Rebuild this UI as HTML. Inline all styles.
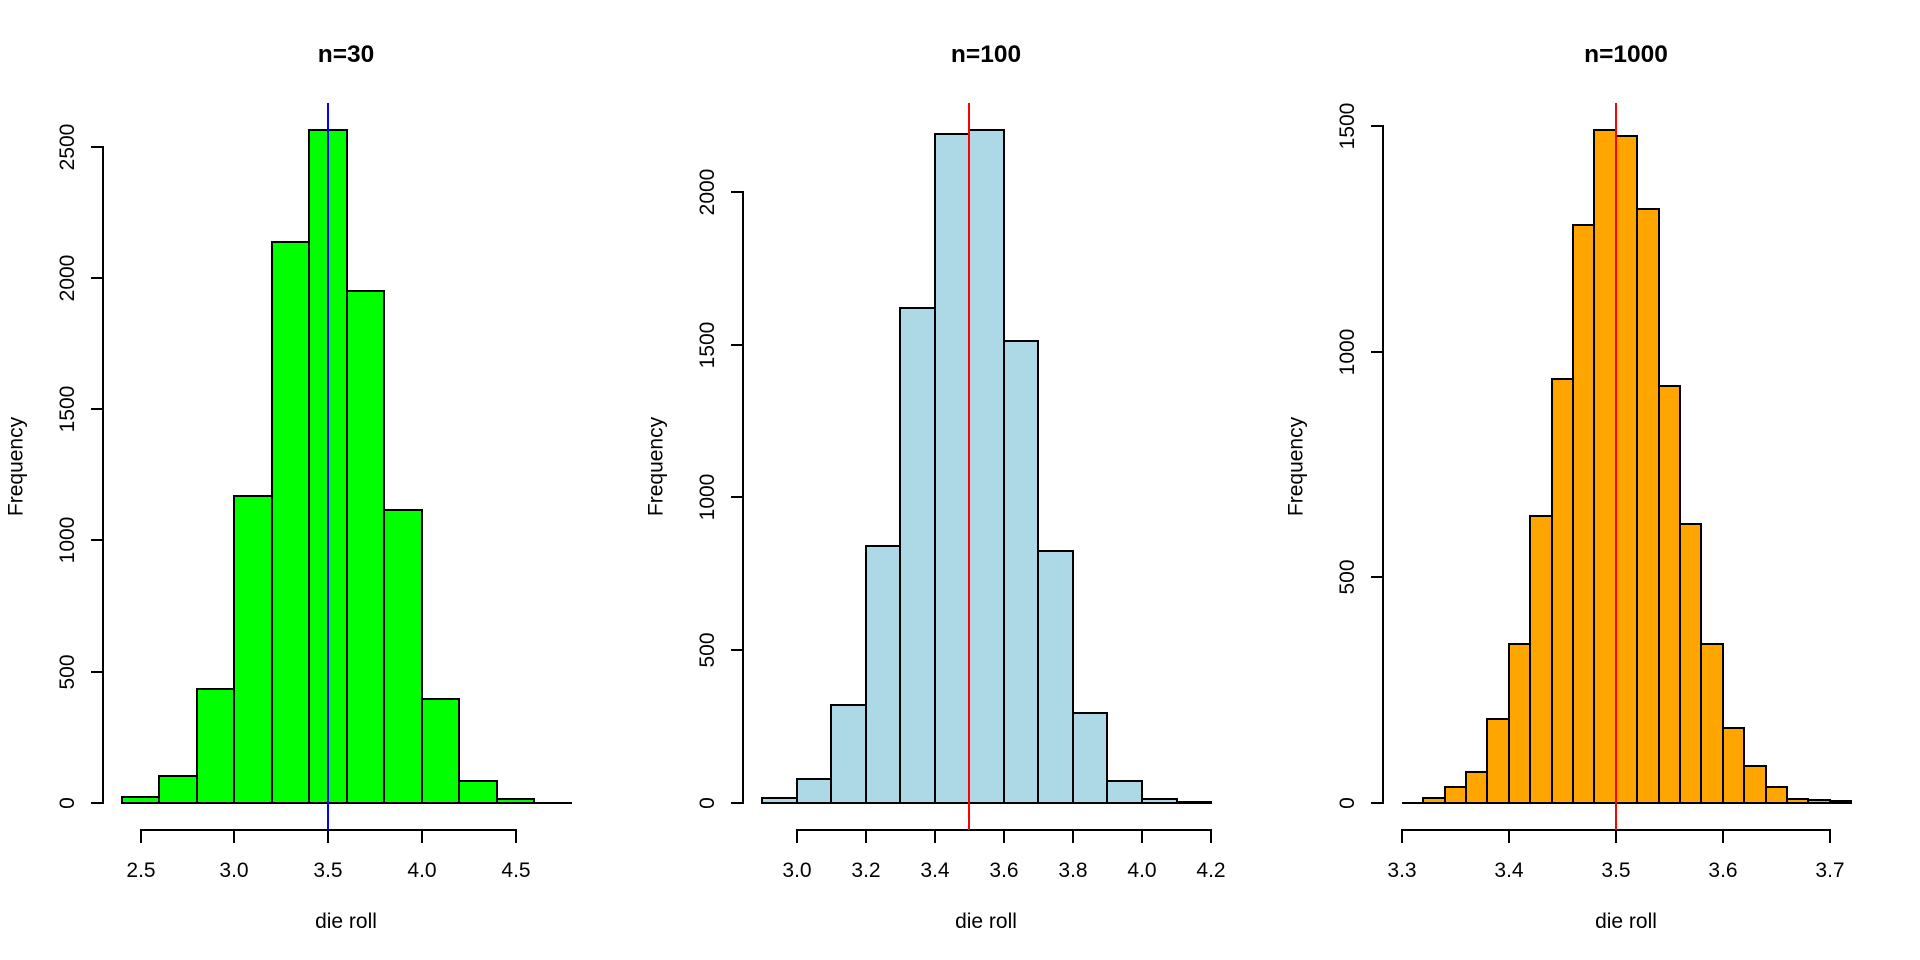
<!DOCTYPE html>
<html>
<head>
<meta charset="utf-8">
<style>
html,body{margin:0;padding:0;background:#fff;}
svg{display:block;}
text{font-family:"Liberation Sans",Arial,sans-serif;fill:#000;}
.ax{font-size:21px;}
.ti{font-size:24.5px;font-weight:bold;}
</style>
</head>
<body>
<svg width="1920" height="960" viewBox="0 0 1920 960" xmlns="http://www.w3.org/2000/svg">
<rect x="0" y="0" width="1920" height="960" fill="#fff"/>

<!-- ================= PANEL 1 ================= -->
<g stroke="#000" stroke-width="2" fill="#00FF00">
<rect x="122" y="797" width="37" height="6"/>
<rect x="159" y="776" width="38" height="27"/>
<rect x="197" y="689" width="37" height="114"/>
<rect x="234" y="496" width="38" height="307"/>
<rect x="272" y="242" width="37" height="561"/>
<rect x="309" y="130" width="38" height="673"/>
<rect x="347" y="291" width="37" height="512"/>
<rect x="384" y="510" width="38" height="293"/>
<rect x="422" y="699" width="37" height="104"/>
<rect x="459" y="781" width="38" height="22"/>
<rect x="497" y="799" width="37" height="4"/>
<line x1="534" y1="803" x2="572" y2="803"/>
</g>
<g stroke="#000" stroke-width="2" fill="none">
<line x1="103" y1="146" x2="103" y2="804"/>
<line x1="91" y1="803" x2="103" y2="803"/>
<line x1="91" y1="672" x2="103" y2="672"/>
<line x1="91" y1="540" x2="103" y2="540"/>
<line x1="91" y1="409" x2="103" y2="409"/>
<line x1="91" y1="278" x2="103" y2="278"/>
<line x1="91" y1="147" x2="103" y2="147"/>
<line x1="140" y1="830" x2="517" y2="830"/>
<line x1="141" y1="830" x2="141" y2="843"/>
<line x1="234" y1="830" x2="234" y2="843"/>
<line x1="328" y1="830" x2="328" y2="843"/>
<line x1="422" y1="830" x2="422" y2="843"/>
<line x1="516" y1="830" x2="516" y2="843"/>
</g>
<line x1="328" y1="103" x2="328" y2="830" stroke="#0000FF" stroke-width="2"/>
<text class="ti" x="346" y="62" text-anchor="middle">n=30</text>
<g class="ax" text-anchor="middle">
<text x="141" y="877">2.5</text>
<text x="234" y="877">3.0</text>
<text x="328" y="877">3.5</text>
<text x="422" y="877">4.0</text>
<text x="516" y="877">4.5</text>
<text x="346" y="928">die roll</text>
<text transform="translate(74,803) rotate(-90)">0</text>
<text transform="translate(74,672) rotate(-90)">500</text>
<text transform="translate(74,540) rotate(-90)">1000</text>
<text transform="translate(74,409) rotate(-90)">1500</text>
<text transform="translate(74,278) rotate(-90)">2000</text>
<text transform="translate(74,147) rotate(-90)">2500</text>
<text transform="translate(22.5,466.5) rotate(-90)">Frequency</text>
</g>

<!-- ================= PANEL 2 ================= -->
<g stroke="#000" stroke-width="2" fill="#ADD8E6">
<rect x="762" y="798" width="35" height="5"/>
<rect x="797" y="779" width="34" height="24"/>
<rect x="831" y="705" width="35" height="98"/>
<rect x="866" y="546" width="34" height="257"/>
<rect x="900" y="308" width="35" height="495"/>
<rect x="935" y="134" width="34" height="669"/>
<rect x="969" y="130" width="35" height="673"/>
<rect x="1004" y="341" width="34" height="462"/>
<rect x="1038" y="551" width="35" height="252"/>
<rect x="1073" y="713" width="34" height="90"/>
<rect x="1107" y="781" width="35" height="22"/>
<rect x="1142" y="799" width="35" height="4"/>
<rect x="1177" y="802" width="34" height="1"/>
</g>
<g stroke="#000" stroke-width="2" fill="none">
<line x1="743" y1="191" x2="743" y2="804"/>
<line x1="731" y1="803" x2="743" y2="803"/>
<line x1="731" y1="650" x2="743" y2="650"/>
<line x1="731" y1="497" x2="743" y2="497"/>
<line x1="731" y1="345" x2="743" y2="345"/>
<line x1="731" y1="192" x2="743" y2="192"/>
<line x1="796" y1="830" x2="1212" y2="830"/>
<line x1="797" y1="830" x2="797" y2="843"/>
<line x1="866" y1="830" x2="866" y2="843"/>
<line x1="935" y1="830" x2="935" y2="843"/>
<line x1="1004" y1="830" x2="1004" y2="843"/>
<line x1="1073" y1="830" x2="1073" y2="843"/>
<line x1="1142" y1="830" x2="1142" y2="843"/>
<line x1="1211" y1="830" x2="1211" y2="843"/>
</g>
<line x1="969" y1="103" x2="969" y2="830" stroke="#FF0000" stroke-width="2"/>
<text class="ti" x="986" y="62" text-anchor="middle">n=100</text>
<g class="ax" text-anchor="middle">
<text x="797" y="877">3.0</text>
<text x="866" y="877">3.2</text>
<text x="935" y="877">3.4</text>
<text x="1004" y="877">3.6</text>
<text x="1073" y="877">3.8</text>
<text x="1142" y="877">4.0</text>
<text x="1211" y="877">4.2</text>
<text x="986" y="928">die roll</text>
<text transform="translate(714,803) rotate(-90)">0</text>
<text transform="translate(714,650) rotate(-90)">500</text>
<text transform="translate(714,497) rotate(-90)">1000</text>
<text transform="translate(714,345) rotate(-90)">1500</text>
<text transform="translate(714,192) rotate(-90)">2000</text>
<text transform="translate(662.5,466.5) rotate(-90)">Frequency</text>
</g>

<!-- ================= PANEL 3 ================= -->
<g stroke="#000" stroke-width="2" fill="#FFA500">
<line x1="1402" y1="803" x2="1423" y2="803"/>
<rect x="1423" y="798" width="22" height="5"/>
<rect x="1445" y="787" width="21" height="16"/>
<rect x="1466" y="772" width="21" height="31"/>
<rect x="1487" y="719" width="22" height="84"/>
<rect x="1509" y="644" width="21" height="159"/>
<rect x="1530" y="516" width="22" height="287"/>
<rect x="1552" y="379" width="21" height="424"/>
<rect x="1573" y="225" width="21" height="578"/>
<rect x="1594" y="130" width="22" height="673"/>
<rect x="1616" y="136" width="21" height="667"/>
<rect x="1637" y="209" width="22" height="594"/>
<rect x="1659" y="386" width="21" height="417"/>
<rect x="1680" y="524" width="21" height="279"/>
<rect x="1701" y="644" width="22" height="159"/>
<rect x="1723" y="728" width="21" height="75"/>
<rect x="1744" y="766" width="22" height="37"/>
<rect x="1766" y="787" width="21" height="16"/>
<rect x="1787" y="799" width="21" height="4"/>
<rect x="1808" y="800" width="22" height="3"/>
<rect x="1830" y="801" width="21" height="2"/>
</g>
<g stroke="#000" stroke-width="2" fill="none">
<line x1="1383" y1="125" x2="1383" y2="804"/>
<line x1="1371" y1="803" x2="1383" y2="803"/>
<line x1="1371" y1="577" x2="1383" y2="577"/>
<line x1="1371" y1="352" x2="1383" y2="352"/>
<line x1="1371" y1="126" x2="1383" y2="126"/>
<line x1="1401" y1="830" x2="1831" y2="830"/>
<line x1="1402" y1="830" x2="1402" y2="843"/>
<line x1="1509" y1="830" x2="1509" y2="843"/>
<line x1="1616" y1="830" x2="1616" y2="843"/>
<line x1="1723" y1="830" x2="1723" y2="843"/>
<line x1="1830" y1="830" x2="1830" y2="843"/>
</g>
<line x1="1616" y1="103" x2="1616" y2="830" stroke="#FF0000" stroke-width="2"/>
<text class="ti" x="1626" y="62" text-anchor="middle">n=1000</text>
<g class="ax" text-anchor="middle">
<text x="1402" y="877">3.3</text>
<text x="1509" y="877">3.4</text>
<text x="1616" y="877">3.5</text>
<text x="1723" y="877">3.6</text>
<text x="1830" y="877">3.7</text>
<text x="1626" y="928">die roll</text>
<text transform="translate(1354,803) rotate(-90)">0</text>
<text transform="translate(1354,577) rotate(-90)">500</text>
<text transform="translate(1354,352) rotate(-90)">1000</text>
<text transform="translate(1354,126) rotate(-90)">1500</text>
<text transform="translate(1302.5,466.5) rotate(-90)">Frequency</text>
</g>
</svg>
</body>
</html>
